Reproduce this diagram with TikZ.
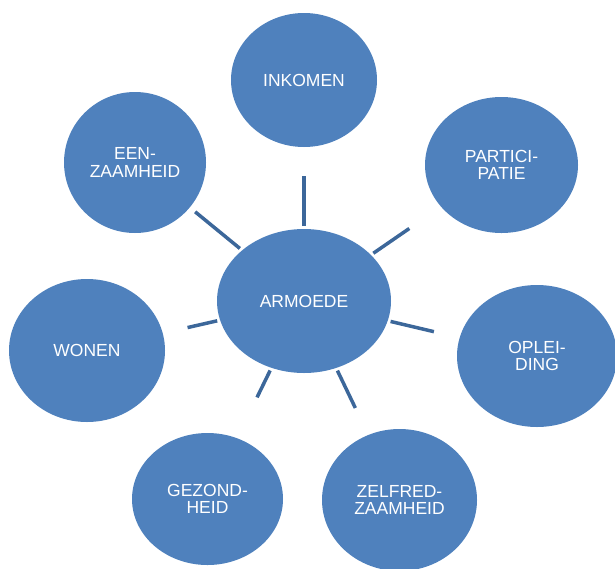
\documentclass[tikz,border=0pt]{standalone}
\usepackage{fontspec}
\setmainfont{Liberation Sans}
\usepackage{xcolor}
\usetikzlibrary{shapes.geometric}

\definecolor{bolblauw}{HTML}{4F81BD}
\definecolor{spaakblauw}{HTML}{3C679A}

\tikzset{
  thema/.style={ellipse, fill=bolblauw, text=white, inner sep=0pt, outer sep=0pt,
    align=center, font=\fontsize{17.5}{17.5}\selectfont},
  spaak/.style={draw=spaakblauw, line width=3.5pt, shorten <=3pt}
}

\begin{document}
\begin{tikzpicture}[x=1pt,y=-1pt]
 \useasboundingbox (0,0) rectangle (615,568);

 \node[thema, minimum width=174pt, minimum height=144pt] (armoede) at (304,301) {ARMOEDE};

 \node[thema, minimum width=146pt, minimum height=134pt] (inkomen) at (304,80) {INKOMEN};
 \node[thema, minimum width=142pt, minimum height=141pt] (eenzaamheid) at (135,162.5) {EEN-\\ZAAMHEID};
 \node[thema, minimum width=153pt, minimum height=136pt] (participatie) at (501.5,165) {PARTICI-\\PATIE};
 \node[thema, minimum width=156pt, minimum height=143pt] (wonen) at (87,350.5) {WONEN};
 \node[thema, minimum width=160pt, minimum height=142pt] (opleiding) at (537,356) {OPLEI-\\DING};
 \node[thema, minimum width=151pt, minimum height=132pt] (gezondheid) at (207.5,499) {GEZOND-\\HEID};
 \node[thema, minimum width=155pt, minimum height=142pt] (zelfredzaamheid) at (399.5,500) {ZELFRED-\\ZAAMHEID};

 \draw[spaak, shorten >=29pt] (armoede) -- (inkomen);
 \draw[spaak, shorten >=7pt] (armoede) -- (eenzaamheid);
 \draw[spaak, shorten >=38.5pt] (armoede) -- (participatie);
 \draw[spaak, shorten >=25.5pt] (armoede) -- (wonen);
 \draw[spaak, shorten >=26.5pt] (armoede) -- (opleiding);
 \draw[spaak, shorten >=45.5pt] (armoede) -- (gezondheid);
 \draw[spaak, shorten >=30pt] (armoede) -- (zelfredzaamheid);
\end{tikzpicture}
\end{document}
